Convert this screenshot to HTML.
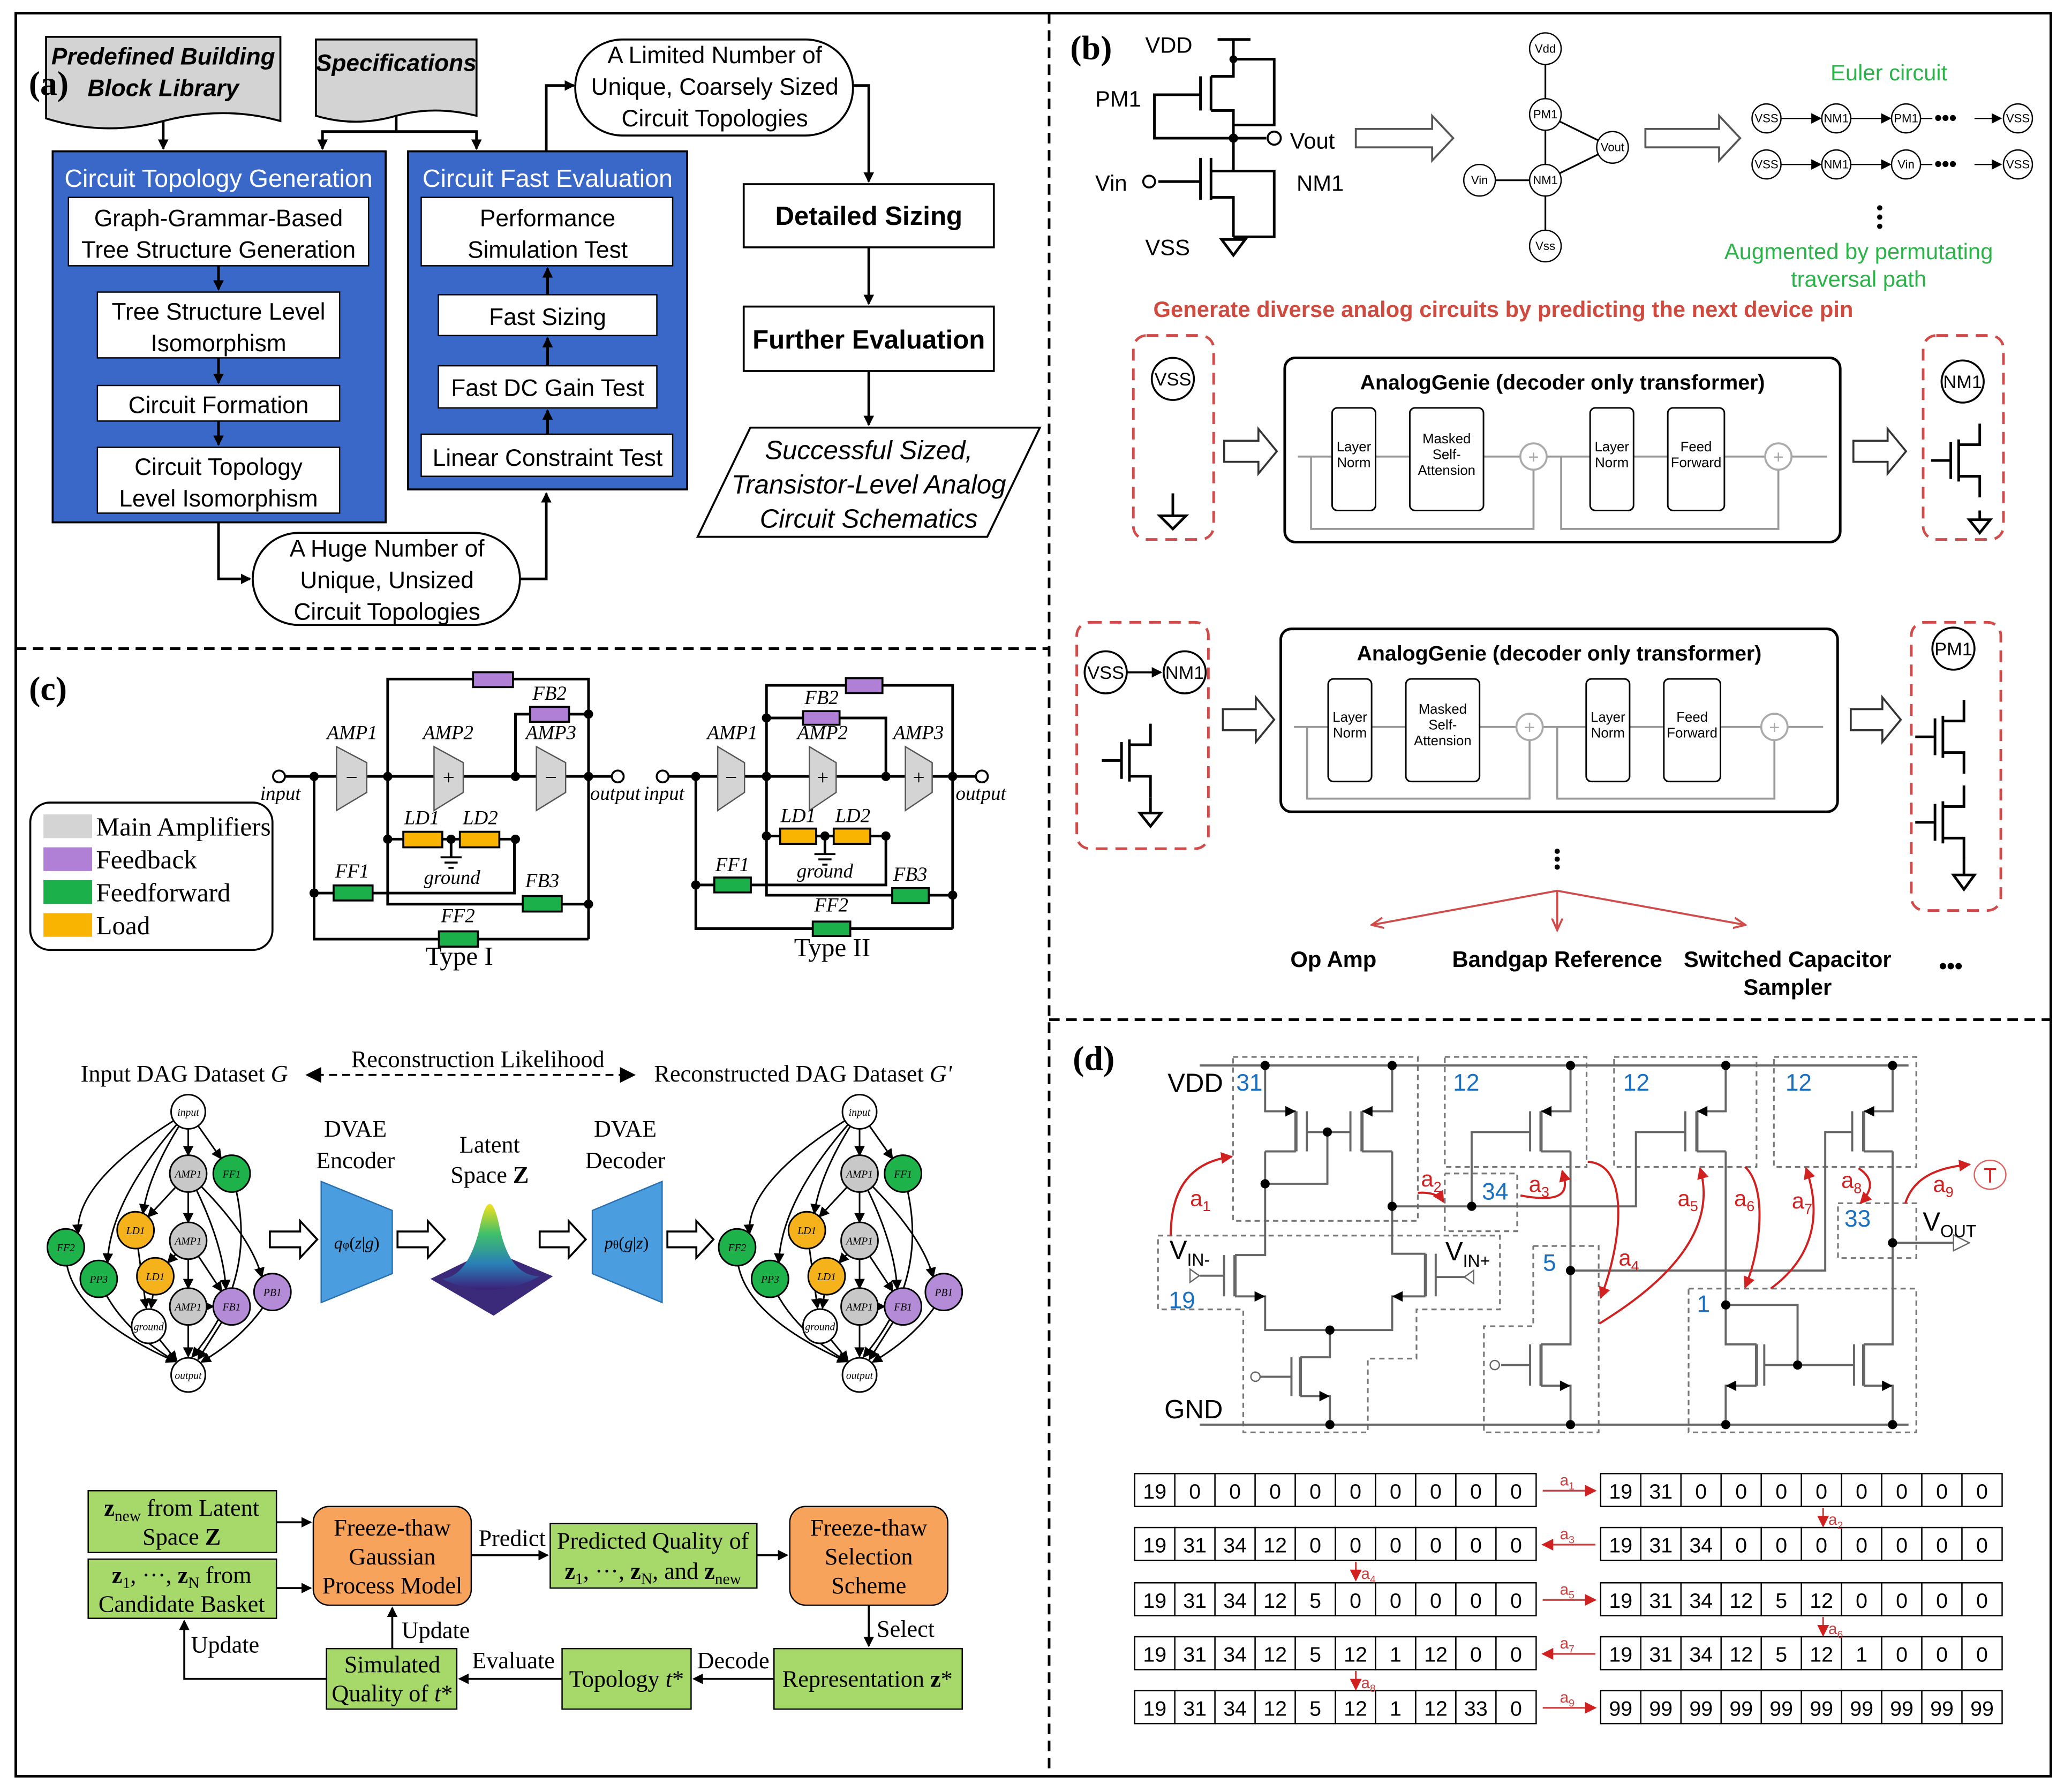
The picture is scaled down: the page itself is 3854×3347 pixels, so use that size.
<!DOCTYPE html>
<html><head><meta charset="utf-8"><style>
html,body{margin:0;padding:0;background:#fff}
svg{display:block}
.s{font-family:"Liberation Sans","DejaVu Sans",sans-serif}
.r{font-family:"Liberation Serif",serif}
</style></head><body>
<svg id="m" xmlns="http://www.w3.org/2000/svg" width="3854" height="3347" viewBox="0 0 1568 1362" preserveAspectRatio="none">
<defs>
<marker id="ar" markerWidth="8" markerHeight="8" refX="7" refY="4" orient="auto" markerUnits="userSpaceOnUse"><path d="M0,0 L8,4 L0,8 z" fill="#000"/></marker>
<marker id="rr" markerWidth="9" markerHeight="9" refX="8" refY="4.5" orient="auto" markerUnits="userSpaceOnUse"><path d="M0,0 L9,4.5 L0,9 z" fill="#d02020"/></marker>
<marker id="ra" markerWidth="10" markerHeight="10" refX="9" refY="5" orient="auto" markerUnits="userSpaceOnUse"><path d="M0,1 L9,5 L0,9" fill="none" stroke="#d24b4b" stroke-width="1.5"/></marker>
<linearGradient id="gg" x1="0" y1="0" x2="0" y2="1"><stop offset="0" stop-color="#f5e21c"/><stop offset="0.35" stop-color="#3fbf6a"/><stop offset="0.7" stop-color="#2a7fb8"/><stop offset="1" stop-color="#3b1f78"/></linearGradient>
</defs>
<rect width="1568" height="1362" fill="#fff"/>
<rect x="12" y="10" width="1546" height="1340" fill="none" stroke="#000" stroke-width="2"/>
<line x1="797" y1="10" x2="797" y2="1350" stroke="#000" stroke-width="2" stroke-dasharray="8,5"/>
<line x1="12" y1="493" x2="797" y2="493" stroke="#000" stroke-width="2" stroke-dasharray="8,5"/>
<line x1="797" y1="775" x2="1558" y2="775" stroke="#000" stroke-width="2" stroke-dasharray="8,5"/>

<!-- PANEL A -->
<g class="s" font-size="18" text-anchor="middle" fill="#000">
<path d="M35,28 H213 V92 Q170,80 124,92 Q80,104 35,90 Z" fill="#d3d3d3" stroke="#000" stroke-width="1.5"/>
<text x="124" y="49" font-weight="bold" font-style="italic">Predefined Building</text>
<text x="124" y="73" font-weight="bold" font-style="italic">Block Library</text>
<path d="M240,30 H362 V88 Q330,80 301,88 Q270,97 240,88 Z" fill="#d3d3d3" stroke="#000" stroke-width="1.5"/>
<text x="301" y="54" font-weight="bold" font-style="italic">Specifications</text>
<text x="37" y="72" font-size="26" font-weight="bold" class="r" font-family="Liberation Serif,serif">(a)</text>
<rect x="437" y="30" width="211" height="73" rx="36" fill="#fff" stroke="#000" stroke-width="1.5"/>
<text x="543" y="48">A Limited Number of</text><text x="543" y="72">Unique, Coarsely Sized</text><text x="543" y="96">Circuit Topologies</text>

<rect x="40" y="115" width="253" height="282" fill="#3a68c9" stroke="#000" stroke-width="1.5"/>
<text x="166" y="142" fill="#fff" font-size="19">Circuit Topology Generation</text>
<rect x="52" y="150" width="228" height="52" fill="#fff" stroke="#000"/>
<text x="166" y="172">Graph-Grammar-Based</text><text x="166" y="196">Tree Structure Generation</text>
<rect x="74" y="222" width="184" height="50" fill="#fff" stroke="#000"/>
<text x="166" y="243">Tree Structure Level</text><text x="166" y="267">Isomorphism</text>
<rect x="74" y="293" width="184" height="27" fill="#fff" stroke="#000"/>
<text x="166" y="314">Circuit Formation</text>
<rect x="74" y="340" width="184" height="50" fill="#fff" stroke="#000"/>
<text x="166" y="361">Circuit Topology</text><text x="166" y="385">Level Isomorphism</text>

<rect x="310" y="115" width="212" height="257" fill="#3a68c9" stroke="#000" stroke-width="1.5"/>
<text x="416" y="142" fill="#fff" font-size="19">Circuit Fast Evaluation</text>
<rect x="320" y="150" width="191" height="52" fill="#fff" stroke="#000"/>
<text x="416" y="172">Performance</text><text x="416" y="196">Simulation Test</text>
<rect x="333" y="224" width="166" height="31" fill="#fff" stroke="#000"/><text x="416" y="247">Fast Sizing</text>
<rect x="333" y="278" width="166" height="32" fill="#fff" stroke="#000"/><text x="416" y="301">Fast DC Gain Test</text>
<rect x="320" y="330" width="191" height="32" fill="#fff" stroke="#000"/><text x="416" y="354">Linear Constraint Test</text>

<rect x="565" y="140" width="190" height="48" fill="#fff" stroke="#000" stroke-width="1.5"/>
<text x="660" y="171" font-weight="bold" font-size="20">Detailed Sizing</text>
<rect x="565" y="233" width="190" height="49" fill="#fff" stroke="#000" stroke-width="1.5"/>
<text x="660" y="265" font-weight="bold" font-size="20">Further Evaluation</text>
<path d="M570,325 H790 L750,408 H530 Z" fill="#fff" stroke="#000" stroke-width="1.5"/>
<g font-style="italic" font-size="20"><text x="660" y="349">Successful Sized,</text><text x="660" y="375">Transistor-Level Analog</text><text x="660" y="401">Circuit Schematics</text></g>
<rect x="192" y="405" width="203" height="70" rx="35" fill="#fff" stroke="#000" stroke-width="1.5"/>
<text x="294" y="423">A Huge Number of</text><text x="294" y="447">Unique, Unsized</text><text x="294" y="471">Circuit Topologies</text>
</g>
<g fill="none" stroke="#000" stroke-width="2" marker-end="url(#ar)">
<path d="M124,92 V113"/><path d="M301,88 V100 H245 V113"/><path d="M301,100 H362 V113"/>
<path d="M415,115 V65 H436"/><path d="M648,65 H660 V138"/><path d="M660,188 V231"/><path d="M660,282 V323"/>
<path d="M166,202 V220"/><path d="M166,272 V291"/><path d="M166,320 V338"/>
<path d="M416,224 V204"/><path d="M416,278 V257"/><path d="M416,330 V312"/>
<path d="M166,397 V440 H190"/><path d="M395,440 H415 V375"/>
</g>

<!-- PANEL B -->
<g class="s">
<text x="813" y="45" font-size="26" font-weight="bold" class="r" font-family="Liberation Serif,serif">(b)</text>
<g font-size="17"><text x="870" y="40">VDD</text><text x="832" y="81">PM1</text><text x="832" y="145">Vin</text><text x="985" y="145">NM1</text><text x="870" y="194">VSS</text><text x="980" y="113">Vout</text></g>
<g fill="none" stroke="#000" stroke-width="2">
<path d="M925,30 H950 M937,30 V45 H968 V95 H937"/>
<path d="M937,45 V58 H920 M920,58 V84 M912,58 V84 M920,84 H937 V130 H920 M920,120 V152 M912,120 V152 M920,150 H937 V180 M937,180 H968 V130 H937"/>
<path d="M912,72 H877 V105 H937 M937,105 H962"/>
<path d="M880,138 H912"/>
<path d="M928,182 H946 L937,194 Z"/>
</g>
<circle cx="937" cy="105" r="3.5" fill="#000"/><circle cx="937" cy="45" r="3" fill="#000"/>
<circle cx="968" cy="105" r="5" fill="#fff" stroke="#000" stroke-width="1.5"/>
<circle cx="873" cy="138" r="4.5" fill="#fff" stroke="#000" stroke-width="1.5"/>
<path d="M1030,98 H1088 V88 L1104,105 L1088,122 V112 H1030 Z" fill="#fff" stroke="#555" stroke-width="1.5"/>
<path d="M1250,98 H1306 V88 L1322,105 L1306,122 V112 H1250 Z" fill="#fff" stroke="#555" stroke-width="1.5"/>
<g stroke="#000" stroke-width="1.3"><line x1="1174" y1="37" x2="1174" y2="187"/><line x1="1124" y1="137" x2="1174" y2="137"/><line x1="1174" y1="87" x2="1225" y2="112"/><line x1="1174" y1="137" x2="1225" y2="112"/></g>
<g font-size="9" text-anchor="middle" fill="#000">
<circle cx="1174" cy="37" r="12" fill="#fff" stroke="#000"/><text x="1174" y="40">Vdd</text>
<circle cx="1174" cy="87" r="12" fill="#fff" stroke="#000"/><text x="1174" y="90">PM1</text>
<circle cx="1225" cy="112" r="12" fill="#fff" stroke="#000"/><text x="1225" y="115">Vout</text>
<circle cx="1174" cy="137" r="12" fill="#fff" stroke="#000"/><text x="1174" y="140">NM1</text>
<circle cx="1124" cy="137" r="12" fill="#fff" stroke="#000"/><text x="1124" y="140">Vin</text>
<circle cx="1174" cy="187" r="12" fill="#fff" stroke="#000"/><text x="1174" y="190">Vss</text>
</g>
<g id="euler" font-size="9" text-anchor="middle"></g>
<text x="1435" y="61" font-size="17" fill="#2bb34a" text-anchor="middle">Euler circuit</text>
<text x="1412" y="197" font-size="17" fill="#2bb34a" text-anchor="middle">Augmented by permutating</text>
<text x="1412" y="218" font-size="17" fill="#2bb34a" text-anchor="middle">traversal path</text>
<g fill="#000"><circle cx="1428" cy="158" r="2"/><circle cx="1428" cy="165" r="2"/><circle cx="1428" cy="172" r="2"/></g>
<text x="1142" y="241" font-size="17" font-weight="bold" fill="#d04b3f" text-anchor="middle">Generate diverse analog circuits by predicting the next device pin</text>

<g id="tf"></g>
<g fill="#000"><circle cx="1183" cy="647" r="2"/><circle cx="1183" cy="653" r="2"/><circle cx="1183" cy="659" r="2"/></g>
<g fill="none" stroke="#d24b4b" stroke-width="1.5" marker-end="url(#ra)"><path d="M1183,677 L1042,703"/><path d="M1183,677 V707"/><path d="M1183,677 L1326,703"/></g>
<g font-size="17" font-weight="bold" text-anchor="middle"><text x="1013" y="735">Op Amp</text><text x="1183" y="735">Bandgap Reference</text><text x="1358" y="735">Switched Capacitor</text><text x="1358" y="756">Sampler</text><text x="1482" y="740">•••</text></g>
</g>

<!-- PANEL C -->
<g class="r" font-family="Liberation Serif,serif">
<text x="22" y="532" font-size="26" font-weight="bold">(c)</text>
<g id="cc"></g>
<rect x="23" y="610" width="184" height="112" rx="15" fill="#fff" stroke="#000" stroke-width="1.5"/>
<rect x="33" y="619" width="37" height="18" fill="#d4d4d4"/><rect x="33" y="644" width="37" height="18" fill="#b07fd6"/>
<rect x="33" y="669" width="37" height="18" fill="#1cb04a"/><rect x="33" y="694" width="37" height="18" fill="#f8b400"/>
<g font-size="20"><text x="73" y="635">Main Amplifiers</text><text x="73" y="660">Feedback</text><text x="73" y="685">Feedforward</text><text x="73" y="710">Load</text></g>

<g font-size="18" text-anchor="middle">
<text x="140" y="822">Input DAG Dataset <tspan font-style="italic">G</tspan></text>
<text x="363" y="811">Reconstruction Likelihood</text>
<text x="610" y="822">Reconstructed DAG Dataset <tspan font-style="italic">G'</tspan></text>
<text x="270" y="864">DVAE</text><text x="270" y="888">Encoder</text>
<text x="372" y="876">Latent</text><text x="372" y="899">Space <tspan font-weight="bold">Z</tspan></text>
<text x="475" y="864">DVAE</text><text x="475" y="888">Decoder</text>
</g>
<line x1="240" y1="817" x2="475" y2="817" stroke="#000" stroke-width="1.5" stroke-dasharray="6,4"/>
<path d="M232,817 L244,811 V823 Z M483,817 L471,811 V823 Z" fill="#000"/>
<g id="dag"></g>
<path d="M244,898 L298,920 V968 L244,990 Z" fill="#4a9ee0" stroke="#2a6fae"/>
<text x="271" y="949" font-size="13" text-anchor="middle" fill="#000"><tspan font-style="italic">q</tspan><tspan font-size="9">φ</tspan>(<tspan font-style="italic">z</tspan>|<tspan font-style="italic">g</tspan>)</text>
<path d="M450,920 L503,898 V990 L450,968 Z" fill="#4a9ee0" stroke="#2a6fae"/>
<text x="476" y="949" font-size="13" text-anchor="middle"><tspan font-style="italic">p</tspan><tspan font-size="9">θ</tspan>(<tspan font-style="italic">g</tspan>|<tspan font-style="italic">z</tspan>)</text>
<path d="M327,972 L375,1000 L420,970 L372,950 Z" fill="#3b2a7a"/>
<path d="M336,972 Q355,970 364,935 Q372,895 380,935 Q388,970 410,970 Q372,990 336,972 Z" fill="url(#gg)"/>
<g fill="#fff" stroke="#000" stroke-width="1.5">
<path d="M205,936 H228 V928 L241,942 L228,956 V948 H205 Z"/><path d="M302,936 H325 V928 L338,942 L325,956 V948 H302 Z"/>
<path d="M410,936 H432 V928 L445,942 L432,956 V948 H410 Z"/><path d="M507,936 H529 V928 L542,942 L529,956 V948 H507 Z"/>
</g>

<g font-size="18" text-anchor="middle">
<rect x="67" y="1133" width="143" height="47" fill="#a6d96a" stroke="#000"/>
<text x="138" y="1152"><tspan font-weight="bold">z</tspan><tspan font-size="12" dy="4">new</tspan><tspan dy="-4"> from Latent</tspan></text><text x="138" y="1174">Space <tspan font-weight="bold">Z</tspan></text>
<rect x="67" y="1185" width="143" height="45" fill="#a6d96a" stroke="#000"/>
<text x="138" y="1203"><tspan font-weight="bold">z</tspan><tspan font-size="12" dy="4">1</tspan><tspan dy="-4">, ···, </tspan><tspan font-weight="bold">z</tspan><tspan font-size="12" dy="4">N</tspan><tspan dy="-4"> from</tspan></text><text x="138" y="1225">Candidate Basket</text>
<rect x="238" y="1145" width="120" height="75" rx="12" fill="#f7a35c" stroke="#000"/>
<text x="298" y="1167">Freeze-thaw</text><text x="298" y="1189">Gaussian</text><text x="298" y="1211">Process Model</text>
<rect x="418" y="1158" width="157" height="49" fill="#a6d96a" stroke="#000"/>
<text x="496" y="1177">Predicted Quality of</text><text x="496" y="1200"><tspan font-weight="bold">z</tspan><tspan font-size="12" dy="4">1</tspan><tspan dy="-4">, ···, </tspan><tspan font-weight="bold">z</tspan><tspan font-size="12" dy="4">N</tspan><tspan dy="-4">, and </tspan><tspan font-weight="bold">z</tspan><tspan font-size="12" dy="4">new</tspan></text>
<rect x="600" y="1145" width="120" height="75" rx="12" fill="#f7a35c" stroke="#000"/>
<text x="660" y="1167">Freeze-thaw</text><text x="660" y="1189">Selection</text><text x="660" y="1211">Scheme</text>
<rect x="588" y="1253" width="143" height="46" fill="#a6d96a" stroke="#000"/><text x="659" y="1282">Representation <tspan font-weight="bold">z</tspan>*</text>
<rect x="427" y="1253" width="98" height="46" fill="#a6d96a" stroke="#000"/><text x="476" y="1282">Topology <tspan font-style="italic">t</tspan>*</text>
<rect x="248" y="1253" width="99" height="46" fill="#a6d96a" stroke="#000"/><text x="298" y="1271">Simulated</text><text x="298" y="1293">Quality of <tspan font-style="italic">t</tspan>*</text>
<text x="389" y="1175">Predict</text><text x="688" y="1244">Select</text><text x="557" y="1268">Decode</text><text x="390" y="1268">Evaluate</text><text x="331" y="1245">Update</text><text x="171" y="1256">Update</text>
</g>
<g fill="none" stroke="#000" stroke-width="1.5" marker-end="url(#ar)">
<path d="M210,1157 H236"/><path d="M210,1207 H236"/><path d="M358,1182 H416"/><path d="M575,1182 H598"/>
<path d="M660,1220 V1251"/><path d="M588,1276 H527"/><path d="M427,1276 H349"/><path d="M298,1253 V1222"/><path d="M248,1276 H140 V1232"/>
</g>
</g>

<!-- PANEL D -->
<g class="s">
<text x="815" y="813" font-size="26" font-weight="bold" class="r" font-family="Liberation Serif,serif">(d)</text>
<g id="dd"></g>
<g id="tb"></g>
</g>
</svg>
<script>
var NS="http://www.w3.org/2000/svg";
function add(id,s){document.getElementById(id).insertAdjacentHTML('beforeend',s);}
// Euler rows
(function(){var s='';var rows=[[90,['VSS','NM1','PM1',null,'VSS']],[125,['VSS','NM1','Vin',null,'VSS']]];var xs=[1342,1395,1448,1478,1533];
rows.forEach(function(r){var y=r[0];for(var i=0;i<5;i++){var x=xs[i];if(r[1][i]===null){s+='<text x="'+x+'" y="'+(y+5)+'" font-size="16" font-weight="bold">•••</text>';continue;}
s+='<circle cx="'+x+'" cy="'+y+'" r="11" fill="#fff" stroke="#000"/><text x="'+x+'" y="'+(y+3)+'">'+r[1][i]+'</text>';
var nx=i<4?xs[i+1]:0;if(i<2)s+='<line x1="'+(x+11)+'" y1="'+y+'" x2="'+(nx-12)+'" y2="'+y+'" stroke="#000" marker-end="url(#ar)"/>';
if(i==2)s+='<line x1="'+(x+11)+'" y1="'+y+'" x2="'+(x+20)+'" y2="'+y+'" stroke="#000"/>';}
s+='<line x1="1500" y1="'+y+'" x2="1520" y2="'+y+'" stroke="#000" marker-end="url(#ar)"/>';});
add('euler',s);})();
// transformers
(function(){var s='';
function tfb(x0,y0,x1,y1){var t='';var mid=(y0+y1)/2+5;var w=x1-x0;
t+='<rect x="'+x0+'" y="'+y0+'" width="'+w+'" height="'+(y1-y0)+'" rx="8" fill="#fff" stroke="#000" stroke-width="2"/>';
t+='<text x="'+(x0+w/2)+'" y="'+(y0+24)+'" font-size="16" font-weight="bold" text-anchor="middle">AnalogGenie (decoder only transformer)</text>';
var bx=[[36,33,'Layer','Norm'],[95,56,'Masked','Self-|Attension'],[232,33,'Layer','Norm'],[291,43,'Feed','Forward']];
t+='<g stroke="#999" stroke-width="1.5" fill="none"><path d="M'+(x0+10)+','+mid+' H'+(x0+412)+'"/>';
t+='<path d="M'+(x0+20)+','+mid+' V'+(y1-10)+' H'+(x0+189)+' V'+(mid+10)+'"/><path d="M'+(x0+210)+','+mid+' V'+(y1-10)+' H'+(x0+375)+' V'+(mid+10)+'"/></g>';
t+='<circle cx="'+(x0+189)+'" cy="'+mid+'" r="10" fill="#fff" stroke="#aaa" stroke-width="1.5"/><text x="'+(x0+189)+'" y="'+(mid+5)+'" font-size="14" fill="#aaa" text-anchor="middle">+</text>';
t+='<circle cx="'+(x0+375)+'" cy="'+mid+'" r="10" fill="#fff" stroke="#aaa" stroke-width="1.5"/><text x="'+(x0+375)+'" y="'+(mid+5)+'" font-size="14" fill="#aaa" text-anchor="middle">+</text>';
bx.forEach(function(b){var bxx=x0+b[0];t+='<rect x="'+bxx+'" y="'+(y0+38)+'" width="'+b[1]+'" height="78" rx="4" fill="#fff" stroke="#000" stroke-width="1.2"/>';
var lines=(b[2]+'|'+b[3]).split('|');var yy=mid-(lines.length-1)*6+2;lines.forEach(function(l,k){t+='<text x="'+(bxx+b[1]/2)+'" y="'+(yy+k*12)+'" font-size="10.5" text-anchor="middle">'+l+'</text>';});});
return t;}
s+=tfb(976,272,1398,412);s+=tfb(973,478,1396,617);
function hol(x0,x1,y){return '<path d="M'+x0+','+(y-8)+' H'+(x1-14)+' V'+(y-17)+' L'+x1+','+y+' L'+(x1-14)+','+(y+17)+' V'+(y+8)+' H'+x0+' Z" fill="#fff" stroke="#333" stroke-width="1.5"/>';}
s+=hol(930,970,343)+hol(1408,1448,343)+hol(929,968,547)+hol(1406,1444,547);
var red='fill="none" stroke="#d24b4b" stroke-width="2" stroke-dasharray="9,6"';
s+='<rect x="861" y="255" width="61" height="155" rx="10" '+red+'/><rect x="1461" y="255" width="61" height="155" rx="10" '+red+'/>';
s+='<rect x="818" y="473" width="100" height="172" rx="10" '+red+'/><rect x="1452" y="473" width="68" height="219" rx="10" '+red+'/>';
function nc(x,y,t,r){return '<circle cx="'+x+'" cy="'+y+'" r="'+(r||16)+'" fill="#fff" stroke="#000" stroke-width="1.5"/><text x="'+x+'" y="'+(y+5)+'" font-size="14" text-anchor="middle">'+t+'</text>';}
s+=nc(891,288,'VSS')+nc(1491,290,'NM1')+nc(840,511,'VSS')+nc(900,511,'NM1')+nc(1484,493,'PM1');
s+='<line x1="856" y1="511" x2="882" y2="511" stroke="#000" stroke-width="1.5" marker-end="url(#ar)"/>';
s+='<g fill="none" stroke="#000" stroke-width="2"><path d="M891,375 V392 M881,392 H901 L891,402 Z"/>';
function nmos(x,y){return '<path d="M'+(x-25)+','+y+' H'+(x-10)+' M'+(x-10)+','+(y-14)+' V'+(y+14)+' M'+(x-4)+','+(y-16)+' V'+(y+16)+' M'+(x-4)+','+(y-12)+' H'+(x+12)+' V'+(y-28)+' M'+(x-4)+','+(y+12)+' H'+(x+12)+' V'+(y+28)+'"/>';}
s+=nmos(1492,350)+'<path d="M1504,388 V395 M1496,395 H1512 L1504,405 Z"/>';
s+=nmos(862,578)+'<path d="M874,606 V618 M866,618 H882 L874,628 Z"/>';
s+=nmos(1480,560)+nmos(1480,625)+'<path d="M1492,653 V665 M1484,665 H1500 L1492,676 Z"/></g>';
add('tf',s);})();
// Panel C circuits (zoom coords)
(function(){function X(z){return 195.3+z*0.3703;}function Y(z){return 500.4+z*0.1617;}
var s='';function P(pts){var d='';for(var i=0;i<pts.length;i+=2)d+=(i?'L':'M')+X(pts[i]).toFixed(1)+','+Y(pts[i+1]).toFixed(1);return '<path d="'+d+'" fill="none" stroke="#000" stroke-width="2"/>';}
function R(x0,x1,y0,y1,c){return '<rect x="'+X(x0)+'" y="'+Y(y0)+'" width="'+(X(x1)-X(x0))+'" height="'+(Y(y1)-Y(y0))+'" fill="'+c+'" stroke="#000" stroke-width="1.5"/>';}
function D(x,y){return '<circle cx="'+X(x)+'" cy="'+Y(y)+'" r="3.5" fill="#000"/>';}
function O(x,y){return '<circle cx="'+X(x)+'" cy="'+Y(y)+'" r="4.5" fill="#fff" stroke="#000" stroke-width="1.5"/>';}
function A(x0,x1,sg){return '<path d="M'+X(x0)+','+Y(415)+' L'+X(x1)+','+Y(490)+' V'+Y(630)+' L'+X(x0)+','+Y(715)+' Z" fill="#d4d4d4" stroke="#555"/><text x="'+((X(x0)+X(x1))/2)+'" y="'+(Y(555)+6)+'" font-size="16" text-anchor="middle">'+sg+'</text>';}
function G(x,y){return P([x,y,x,y+85])+'<path d="M'+(X(x)-8)+','+Y(y+85)+' h16 M'+(X(x)-5)+','+(Y(y+85)+4)+' h10 M'+(X(x)-2)+','+(Y(y+85)+8)+' h4" stroke="#000" stroke-width="1.5"/>';}
var P_='#b07fd6',Gr='#1cb04a',Or='#f8b400',t='';
// Type I
s+=P([45,555,740,555])+P([268,555,268,97,680,97,680,1320])+P([530,555,530,262,680,262])+P([268,555,268,1155,680,1155])+P([117,555,117,1320,680,1320])+P([117,1103,528,1103,528,850])+P([268,850,530,850]);
s+=A(163,225,'−')+A(363,423,'+')+A(573,633,'−');
s+=R(443,525,65,135,P_)+R(560,640,228,298,P_)+R(300,380,815,888,Or)+R(416,497,815,888,Or)+R(157,237,1067,1138,Gr)+R(545,625,1117,1190,Gr)+R(373,453,1283,1355,Gr);
s+=G(398,850);[[117,555],[268,555],[530,555],[680,555],[680,262],[268,850],[398,850],[530,850],[117,1103],[680,1155]].forEach(function(p){s+=D(p[0],p[1]);});s+=O(45,555)+O(740,555);
// Type II
s+=P([832,555,1487,555])+P([1045,555,1045,127,1427,127,1427,1270])+P([1045,280,1290,280,1290,555])+P([1045,555,1045,1113,1427,1113])+P([900,555,900,1270,1427,1270])+P([900,1065,1290,1065,1290,835])+P([1045,835,1290,835]);
s+=A(945,1000,'−')+A(1133,1188,'+')+A(1330,1385,'+');
s+=R(1208,1283,93,163,P_)+R(1120,1195,248,312,P_)+R(1073,1147,800,872,Or)+R(1183,1258,800,872,Or)+R(938,1013,1030,1100,Gr)+R(1303,1378,1080,1150,Gr)+R(1140,1217,1237,1305,Gr);
s+=G(1165,835);[[900,555],[1045,555],[1290,555],[1427,555],[1045,280],[1045,835],[1165,835],[1290,835],[900,1065],[1427,1113]].forEach(function(p){s+=D(p[0],p[1]);});s+=O(832,555)+O(1487,555);
var L=[['AMP1',195,380],['AMP2',392,380],['AMP3',603,380],['FB2',600,195],['LD1',338,780],['LD2',458,780],['ground',400,1060],['FF1',195,1030],['FB3',585,1075],['FF2',412,1240],['input',48,665],['output',735,665],['AMP1',975,380],['AMP2',1160,380],['AMP3',1357,380],['FB2',1158,215],['LD1',1110,770],['LD2',1222,770],['ground',1165,1030],['FF1',975,1000],['FB3',1340,1045],['FF2',1178,1190],['input',835,665],['output',1485,665]];
L.forEach(function(l){s+='<text x="'+X(l[1])+'" y="'+Y(l[2])+'" font-size="15" font-style="italic" text-anchor="middle">'+l[0]+'</text>';});
s+='<text x="'+X(415)+'" y="'+Y(1440)+'" font-size="20" text-anchor="middle">Type I</text><text x="'+X(1180)+'" y="'+Y(1400)+'" font-size="20" text-anchor="middle">Type II</text>';
add('cc',s);})();
// DAG
(function(){var s='';var gray='#c8c8c8',gr='#1db34a',or='#f6b21a',pu='#b38bd6',wh='#fff';
var N={in:[143,845,'input',wh],a1:[143,892,'AMP1',gray],f1:[176,892,'FF1',gr],l1:[103,935,'LD1',or],a2:[143,943,'AMP1',gray],f2:[50,948,'FF2',gr],p3:[75,972,'PP3',gr],l2:[118,970,'LD1',or],a3:[143,993,'AMP1',gray],b1:[176,993,'FB1',pu],pb:[207,982,'PB1',pu],gd:[113,1008,'ground',wh],out:[143,1045,'output',wh]};
var E=[['in','a1'],['in','f1'],['in','f2',-40],['in','p3',-25],['in','l1',-10],['a1','l1'],['a1','a2'],['a1','pb',15],['a2','l2'],['a2','a3'],['a2','b1'],['a1','b1',10],['f1','out',40],['f2','out',-50],['p3','out',-20],['l1','gd'],['l2','gd'],['a3','out'],['b1','out'],['pb','out',15],['gd','out'],['a3','b1']];
[0,510].forEach(function(o){E.forEach(function(e){var a=N[e[0]],b=N[e[1]];var c=e[2]||0;var mx=(a[0]+b[0])/2+o+c,my=(a[1]+b[1])/2;
var dx=b[0]-a[0],dy=b[1]-a[1],d=Math.sqrt(dx*dx+dy*dy),r=14;var x2=b[0]+o-dx/d*r,y2=b[1]-dy/d*r;
s+='<path d="M'+(a[0]+o)+','+a[1]+' Q'+mx+','+my+' '+x2+','+y2+'" fill="none" stroke="#000" stroke-width="1.2" marker-end="url(#ar)"/>';});
for(var k in N){var n=N[k];var r=(n[3]==wh)?13:14;s+='<circle cx="'+(n[0]+o)+'" cy="'+n[1]+'" r="'+r+'" fill="'+n[3]+'" stroke="#000" stroke-width="1.2"/><text x="'+(n[0]+o)+'" y="'+(n[1]+3)+'" font-size="8" font-style="italic" text-anchor="middle">'+n[2]+'</text>';}});
add('dag',s);})();
// Panel D circuit (zoom coords)
(function(){function X(z){return 887+(z-155)*0.4874;}function Y(z){return 822+(z-150)*0.1968;}
var s='';function P(pts,st){var d='';for(var i=0;i<pts.length;i+=2)d+=(i?'L':'M')+X(pts[i]).toFixed(1)+','+Y(pts[i+1]).toFixed(1);return '<path d="'+d+'" fill="none" '+(st||'stroke="#666" stroke-width="1.6"')+'/>';}
var dash='stroke="#777" stroke-width="1.3" stroke-dasharray="4,3"';
s+=P([257,55,545,55,545,688,257,688,257,55],dash)+P([587,55,808,55,808,480,587,480,587,55],dash)+P([851,55,1073,55,1073,480,851,480,851,55],dash)+P([1100,55,1322,55,1322,480,1100,480,1100,55],dash);
s+=P([587,505,700,505,700,728,587,728,587,505],dash)+P([1200,620,1322,620,1322,832,1200,832,1200,620],dash);
s+=P([140,745,673,745,673,1030,543,1030,543,1220,467,1220,467,1505,273,1505,273,1030,140,1030,140,745],dash);
s+=P([725,785,827,785,827,1505,648,1505,648,1095,725,1095,725,785],dash)+P([967,950,1322,950,1322,1505,967,1505,967,950],dash);
s+=P([205,88,1310,88])+P([205,1475,1310,1475]);
function pm(sx,ch,g){return P([sx,88,sx,265,ch,265])+P([ch,265,ch,420],'stroke="#666" stroke-width="2.4"')+P([g,265,g,420])+P([ch,420,sx,420]);}
s+=pm(307,355,372)+pm(505,458,440)+pm(783,737,720)+pm(1025,980,962)+pm(1285,1240,1222);
s+=P([372,345,440,345])+P([404,345,404,545,307,545])+P([307,420,307,820,260,820])+P([505,420,505,815,557,815]);
s+=P([505,632,885,632,885,345,962,345])+P([629,632,629,345,720,345])+P([1222,345,1180,345,1180,880,783,880]);
s+=P([783,420,783,1165,737,1165])+P([737,1325,783,1325,783,1475])+P([1025,420,1025,1165,1073,1165])+P([1073,1325,1025,1325,1025,1475])+P([1285,420,1285,1165,1240,1165])+P([1240,1325,1285,1325,1285,1475]);
s+=P([1025,1013,1137,1013,1137,1245])+P([1085,1245,1225,1245]);
function nch(ch,g,y0,y1){return P([ch,y0,ch,y1],'stroke="#666" stroke-width="2.4"')+P([g,y0,g,y1]);}
s+=nch(737,720,1165,1325)+nch(1073,1085,1165,1325)+nch(1240,1225,1165,1325)+nch(260,243,820,980)+nch(557,573,815,980)+nch(362,348,1215,1365);
s+=P([260,980,307,980,307,1110,505,1110,505,980,557,980])+P([408,1110,408,1215,362,1215])+P([362,1365,408,1365,408,1475]);
s+=P([243,900,205,900])+P([573,905,620,905])+P([348,1290,300,1290])+P([720,1245,675,1245])+P([1285,773,1380,773]);
s+='<path d="M'+X(1380)+','+(Y(773)-6)+' l12,6 l-12,6 z" fill="#fff" stroke="#666"/>';
s+='<path d="M'+X(190)+','+(Y(900)-5)+' l7,5 l-7,5 z" fill="#fff" stroke="#666"/><path d="M'+X(632)+','+(Y(905)-5)+' l-7,5 l7,5 z" fill="#fff" stroke="#666"/>';
s+='<circle cx="'+X(292)+'" cy="'+Y(1290)+'" r="3.5" fill="#fff" stroke="#666"/><circle cx="'+X(665)+'" cy="'+Y(1245)+'" r="3.5" fill="#fff" stroke="#666"/>';
[[307,88],[505,88],[783,88],[1025,88],[1285,88],[404,345],[307,545],[505,632],[629,632],[783,880],[1285,773],[408,1110],[1025,1013],[1137,1245],[408,1475],[783,1475],[1025,1475],[1285,1475]].forEach(function(p){s+='<circle cx="'+X(p[0])+'" cy="'+Y(p[1])+'" r="3.5" fill="#000"/>';});
// arrows stubs
[[355,265,-1],[458,265,1],[737,265,1],[980,265,1],[1240,265,1]].forEach(function(p){var x=X(p[0]),y=Y(p[1]);s+='<path d="M'+x+','+y+' l'+(8*p[2])+',-4 v8 z" fill="#000"/>';});
[[307,980,1],[505,980,-1],[408,1365,1],[783,1325,1],[1025,1325,-1],[1285,1325,1]].forEach(function(p){var x=X(p[0]),y=Y(p[1]);s+='<path d="M'+x+','+y+' l'+(-8*p[2])+',-4 v8 z" fill="#000"/>';});
// labels
s+='<text x="'+X(155)+'" y="'+(Y(150)+8)+'" font-size="20">VDD</text><text x="'+X(150)+'" y="'+(Y(1410)+8)+'" font-size="20">GND</text>';
var B=[['31',262,150],['12',600,150],['12',865,150],['12',1118,150],['34',645,570],['33',1210,675],['5',740,845],['1',980,1005],['19',157,990]];
B.forEach(function(b){s+='<text x="'+X(b[1])+'" y="'+(Y(b[2])+7)+'" font-size="18" fill="#1a6fc0">'+b[0]+'</text>';});
s+='<text x="'+X(158)+'" y="'+(Y(800)+7)+'" font-size="20">V<tspan font-size="13" dy="5">IN-</tspan></text><text x="'+X(588)+'" y="'+(Y(805)+7)+'" font-size="20">V<tspan font-size="13" dy="5">IN+</tspan></text><text x="'+X(1332)+'" y="'+(Y(690)+7)+'" font-size="20">V<tspan font-size="13" dy="5">OUT</tspan></text>';
var rst='stroke="#d02020" stroke-width="1.6" marker-end="url(#rr)"';
function C(d){return '<path d="'+d.replace(/(-?\d+),(-?\d+)/g,function(m,a,b){return X(+a).toFixed(1)+','+Y(+b).toFixed(1);})+'" fill="none" '+rst+'/>';}
s+=C('M160,745 Q160,470 255,440')+C('M545,580 Q575,575 585,615')+C('M705,590 C790,630 775,540 770,495')+C('M810,460 C880,470 860,800 830,985')+C('M828,1085 C950,900 1010,700 985,485')+C('M1055,480 C1090,560 1080,800 1055,945')+C('M1095,950 C1150,850 1180,700 1150,485')+C('M1232,485 C1260,530 1250,580 1235,620')+C('M1305,620 C1320,500 1370,480 1405,470');
var A=[['1',190,600],['2',550,525],['3',718,545],['4',858,830],['5',950,600],['6',1038,600],['7',1128,610],['8',1205,530],['9',1348,545]];
A.forEach(function(a){s+='<text x="'+X(a[1])+'" y="'+(Y(a[2])+6)+'" font-size="17" fill="#d02020">a<tspan font-size="11" dy="4">'+a[0]+'</tspan></text>';});
s+='<ellipse cx="'+X(1437)+'" cy="'+Y(510)+'" rx="12" ry="11" fill="#fff" stroke="#e06060"/><text x="'+X(1437)+'" y="'+(Y(510)+6)+'" font-size="16" fill="#d02020" text-anchor="middle">T</text>';
add('dd',s);})();
// tables
(function(){var s='';var Lr=[[19,0,0,0,0,0,0,0,0,0],[19,31,34,12,0,0,0,0,0,0],[19,31,34,12,5,0,0,0,0,0],[19,31,34,12,5,12,1,12,0,0],[19,31,34,12,5,12,1,12,33,0]];
var Rr=[[19,31,0,0,0,0,0,0,0,0],[19,31,34,0,0,0,0,0,0,0],[19,31,34,12,5,12,0,0,0,0],[19,31,34,12,5,12,1,0,0,0],[99,99,99,99,99,99,99,99,99,99]];
var ys=[1120,1161,1203,1244,1285],cw=30.5,h=25;
function row(x0,y,v){var t='';for(var i=0;i<10;i++){t+='<rect x="'+(x0+i*cw)+'" y="'+y+'" width="'+cw+'" height="'+h+'" fill="#fff" stroke="#000" stroke-width="1"/><text x="'+(x0+i*cw+cw/2)+'" y="'+(y+19)+'" font-size="16" text-anchor="middle">'+v[i]+'</text>';}return t;}
for(var r=0;r<5;r++){s+=row(862,ys[r],Lr[r])+row(1216,ys[r],Rr[r]);}
var red='stroke="#c84040" stroke-width="1.3" marker-end="url(#rr)"';
function lab(x,y,n){return '<text x="'+x+'" y="'+y+'" font-size="12" fill="#c84040">a<tspan font-size="8" dy="3">'+n+'</tspan></text>';}
[[0,1,'1'],[2,1,'5'],[4,1,'9']].forEach(function(a){var y=ys[a[0]]+13;s+='<line x1="1172" y1="'+y+'" x2="1212" y2="'+y+'" '+red+'/>'+lab(1185,y-4,a[2]);});
[[1,'3'],[3,'7']].forEach(function(a){var y=ys[a[0]]+13;s+='<line x1="1212" y1="'+y+'" x2="1172" y2="'+y+'" '+red+'/>'+lab(1185,y-4,a[1]);});
[[1385,1146,'2'],[1385,1229,'6']].forEach(function(a){s+='<line x1="'+a[0]+'" y1="'+a[1]+'" x2="'+a[0]+'" y2="'+(a[1]+14)+'" '+red+'/>'+lab(a[0]+4,a[1]+13,a[2]);});
[[1030,1187,'4'],[1030,1270,'8']].forEach(function(a){s+='<line x1="'+a[0]+'" y1="'+a[1]+'" x2="'+a[0]+'" y2="'+(a[1]+14)+'" '+red+'/>'+lab(a[0]+4,a[1]+13,a[2]);});
add('tb',s);})();
</script>
</body></html>
